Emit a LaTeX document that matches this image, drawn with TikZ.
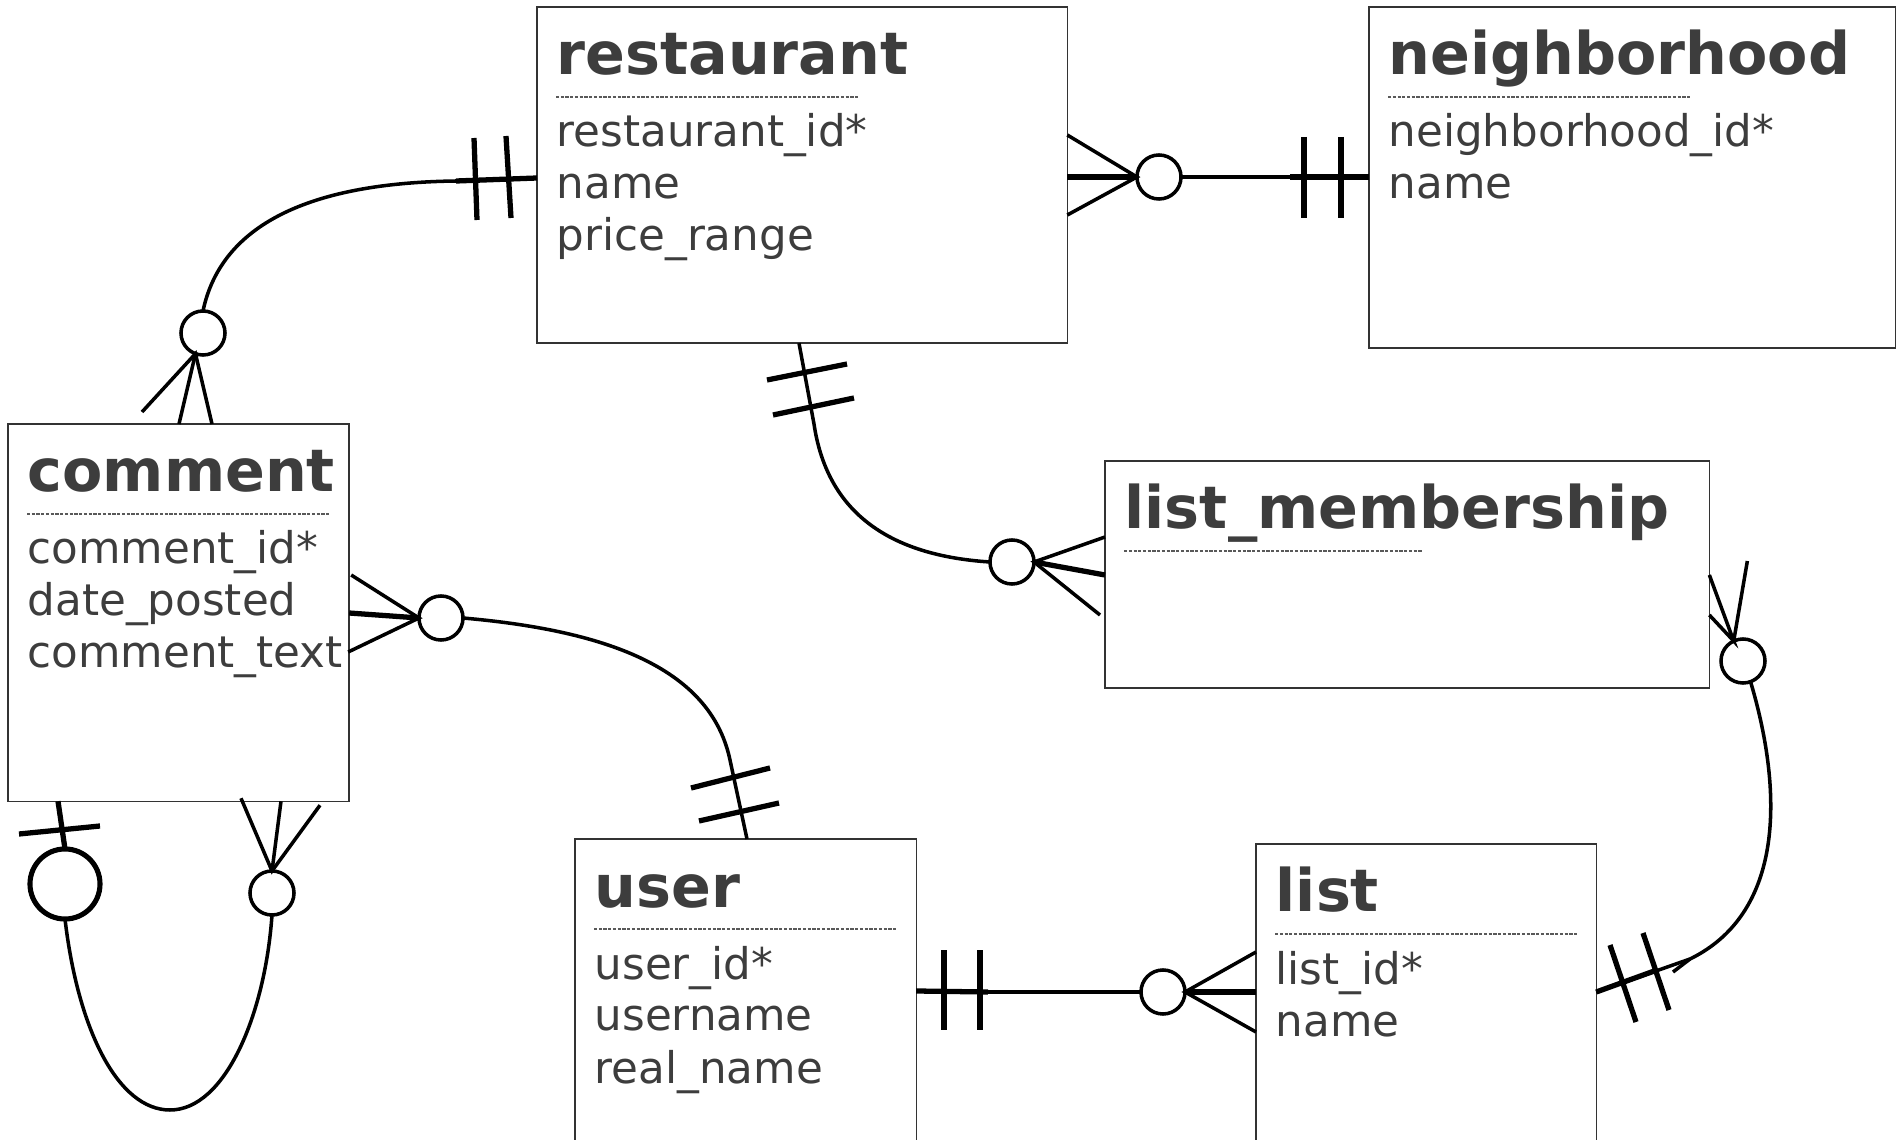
\documentclass[tikz,border=0pt]{standalone}
\usepackage{fontspec}
\setmainfont{DejaVu Sans}
\begin{document}
\begin{tikzpicture}[
    x=0.01cm, y=-0.01cm,
    entity/.style={draw=black!80, line width=0.4pt, anchor=north west, inner sep=0pt, outer sep=0pt},
    title/.style={anchor=base west, inner sep=0pt, text=black!76, font=\fontsize{16.7pt}{20pt}\selectfont\bfseries},
    attr/.style={anchor=base west, inner sep=0pt, text=black!76, font=\fontsize{12.4pt}{14.8pt}\selectfont},
    sep/.style={draw=black!65, line width=0.45pt, dash pattern=on 0.9pt off 0.45pt},
    rel/.style={draw=black, line width=1pt},
    bar/.style={draw=black, line width=1.5pt},
    opt/.style={circle, draw=black, line width=1pt, minimum size=0.44cm, inner sep=0pt, outer sep=0pt},
    bigopt/.style={opt, line width=1.45pt, minimum size=0.70cm}
  ]
  \useasboundingbox (0,0) rectangle (1899,1140);
  \clip (0,0) rectangle (1899,1140);

  \node[entity, minimum width=5.30cm, minimum height=3.36cm] (restaurant) at (537,7) {};
  \node[entity, minimum width=5.26cm, minimum height=3.41cm] (neighborhood) at (1369,7) {};
  \node[entity, minimum width=3.41cm, minimum height=3.77cm] (comment) at (8,424) {};
  \node[entity, minimum width=6.04cm, minimum height=2.27cm] (listmem) at (1105,461) {};
  \node[entity, minimum width=3.41cm, minimum height=3.60cm] (user) at (575,839) {};
  \node[entity, minimum width=3.40cm, minimum height=3.60cm] (list) at (1256,844) {};

  \foreach \ent/\ttl/\attrs in {restaurant/restaurant/{restaurant\_id*, name, price\_range},
      neighborhood/neighborhood/{neighborhood\_id*, name},
      comment/comment/{comment\_id*, date\_posted, comment\_text},
      user/user/{user\_id*, username, real\_name},
      list/list/{list\_id*, name}} {
    \node[title] (\ent-title) at ([shift={(19,68)}]\ent.north west) {\ttl};
    \draw[sep] ([shift={(19,90)}]\ent.north west) -- ++(303,0);
    \foreach \a [count=\i from 0] in \attrs
      \node[attr] (\ent-a\i) at ([shift={(19,{140+52*\i})}]\ent.north west) {\a};
  }
  \node[title] (listmem-title) at ([shift={(19,68)}]listmem.north west) {list\_membership};
  \draw[sep] ([shift={(19,90)}]listmem.north west) -- ++(298,0);

  % restaurant -- comment
  \node[opt] (ocr) at (203,333) {};
  \draw[bar] ([shift={(0,171)}]restaurant.north west) -- (456,181);
  \draw[bar] (474,138) -- (477,220);
  \draw[bar] (506,136) -- (511,218);
  \draw[rel] (456,181) .. controls (300,183) and (220,230) .. (ocr.north);
  \draw[rel] ([shift={(134,-12)}]comment.north west) -- (ocr.250) -- ([shift={(204,0)}]comment.north west);
  \draw[rel] (ocr.250) -- ([shift={(171,0)}]comment.north west);

  % restaurant -- list_membership
  \node[opt] (orl) at (1012,562) {};
  \draw[rel] ([shift={(262,0)}]restaurant.south west) -- (814,424)
    .. controls (826,505) and (880,555) .. (orl.west);
  \draw[bar] (767,380) -- (847,364);
  \draw[bar] (773,415) -- (854,398);
  \draw[rel] ([shift={(0,76)}]listmem.north west) -- (orl.east) -- ([shift={(-5,154)}]listmem.north west);
  \draw[bar] (orl.east) -- ([shift={(0,114)}]listmem.north west);

  % restaurant -- neighborhood
  \node[opt] (orn) at (1159,177) {};
  \draw[rel] ([shift={(0,128)}]restaurant.north east) -- (orn.west) -- ([shift={(0,208)}]restaurant.north east);
  \draw[bar] ([shift={(0,170)}]restaurant.north east) -- (orn.west);
  \draw[rel] (orn.east) -- (neighborhood.west |- orn.east);
  \draw[bar] (1290,177) -- (neighborhood.west |- orn.east);
  \draw[bar] (1304,137) -- (1304,218);
  \draw[bar] (1341,137) -- (1341,218);

  % comment -- user
  \node[opt] (ocu) at (441,618) {};
  \draw[rel] ([shift={(2,151)}]comment.north east) -- (ocu.west) -- ([shift={(-1,228)}]comment.north east);
  \draw[bar] ([shift={(0,189)}]comment.north east) -- (ocu.west);
  \draw[rel] (ocu.east) .. controls (600,630) and (710,665) .. (730,760) -- ([shift={(172,0)}]user.north west);
  \draw[bar] (691,788) -- (770,768);
  \draw[bar] (699,821) -- (779,803);

  % comment -- comment
  \node[bigopt] (occa) at (65,884) {};
  \node[opt] (occb) at (272,893) {};
  \draw[bar] ([shift={(50,0)}]comment.south west) -- (occa.north);
  \draw[bar] (19,834) -- (100,826);
  \draw[rel] (occa.south) .. controls (78,1030) and (118,1110) .. (170,1110)
    .. controls (225,1110) and (265,1015) .. (occb.south);
  \draw[rel] ([shift={(233,-3)}]comment.south west) -- (occb.north) -- ([shift={(312,4)}]comment.south west);
  \draw[rel] (occb.north) -- ([shift={(273,0)}]comment.south west);

  % list_membership -- list
  \node[opt] (olm) at (1743,661) {};
  \draw[rel] ([shift={(0,114)}]listmem.north east) -- (olm.115) -- ([shift={(0,154)}]listmem.north east);
  \draw[rel] (olm.115) -- ([shift={(38,100)}]listmem.north east);
  \draw[rel] (olm.290) .. controls (1780,780) and (1790,910) .. (1690,959) -- ([shift={(0,148)}]list.north east);
  \draw[bar] ([shift={(0,148)}]list.north east) -- (1657,970);
  \draw[rel] (1673,972) -- (1690,959);
  \draw[bar] (1610,945) -- (1636,1022);
  \draw[bar] (1643,933) -- (1669,1010);

  % user -- list
  \node[opt] (oul) at (1163,992) {};
  \draw[bar] ([shift={(0,152)}]user.north east) -- (988,992);
  \draw[rel] (988,992) -- (oul.west);
  \draw[bar] (944,950) -- (944,1030);
  \draw[bar] (980,950) -- (980,1030);
  \draw[rel] ([shift={(0,108)}]list.north west) -- (oul.east) -- ([shift={(0,188)}]list.north west);
  \draw[bar] (oul.east) -- ([shift={(0,148)}]list.north west);
\end{tikzpicture}
\end{document}
